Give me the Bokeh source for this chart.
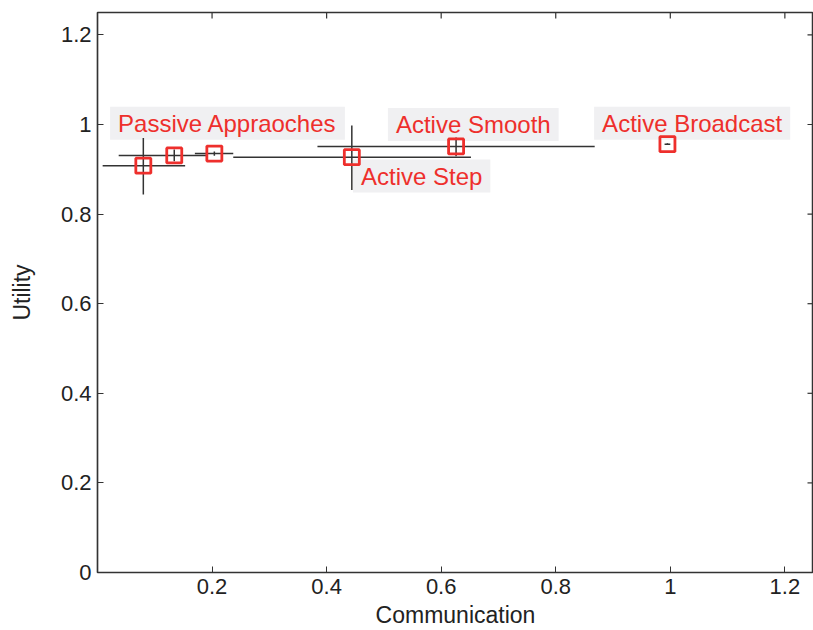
import math
from bokeh.plotting import figure
from bokeh.models import Range1d, Label, FixedTicker
from bokeh.embed import file_html
from bokeh.resources import INLINE

# data
names = ["Passive 1", "Passive 2", "Passive 3", "Active Step", "Active Smooth", "Active Broadcast"]
comm = [0.080, 0.134, 0.204, 0.444, 0.626, 0.995]
util = [0.908, 0.931, 0.935, 0.927, 0.951, 0.956]
comm_lo = [0.009, 0.037, 0.170, 0.237, 0.384, 0.990]
comm_hi = [0.153, 0.190, 0.237, 0.652, 0.868, 1.000]
util_lo = [0.844, 0.918, 0.930, 0.854, 0.929, 0.954]
util_hi = [0.970, 0.944, 0.940, 0.998, 0.971, 0.958]

label_texts = ["Passive Appraoches", "Active Smooth", "Active Step", "Active Broadcast"]
label_x = [0.022, 0.507, 0.446, 0.867]
label_y = [1.003, 1.000, 0.885, 1.003]

x_ticks = [0.2, 0.4, 0.6, 0.8, 1.0, 1.2]
y_ticks = [0, 0.2, 0.4, 0.6, 0.8, 1.0, 1.2]
x_max = 1.25
y_max = 1.25

RED = "#ee2f2c"
DARK = "#333333"
FONT = "Liberation Sans"

p = figure(width=813, height=630, output_backend="svg", toolbar_location=None,
           x_range=Range1d(0, x_max), y_range=Range1d(0, y_max),
           min_border_left=97, min_border_right=0, min_border_top=12, min_border_bottom=52)
p.grid.visible = False
p.background_fill_color = "white"
p.border_fill_color = "white"
p.outline_line_color = DARK
p.outline_line_width = 1.5

for ax in (p.xaxis[0], p.yaxis[0]):
    ax.major_tick_in = 6
    ax.major_tick_out = 0
    ax.minor_tick_in = 0
    ax.minor_tick_out = 0
    ax.axis_line_color = DARK
    ax.axis_line_width = 1.2
    ax.major_tick_line_color = DARK
    ax.major_label_text_font = FONT
    ax.major_label_text_font_size = "22px"
    ax.major_label_text_color = "#222222"
    ax.axis_label_text_font = FONT
    ax.axis_label_text_font_size = "23px"
    ax.axis_label_text_font_style = "normal"
    ax.axis_label_text_color = "#222222"

p.xaxis.ticker = FixedTicker(ticks=x_ticks)
p.yaxis.ticker = FixedTicker(ticks=y_ticks)
p.xaxis.axis_label = "Communication"
p.yaxis.axis_label = "Utility"
p.xaxis.major_label_standoff = 6
p.xaxis.axis_label_standoff = 5
p.yaxis.major_label_standoff = 6
p.yaxis.axis_label_standoff = 23
p.yaxis.major_label_orientation = "horizontal"

# mirrored inward ticks on top and right edges (half of each dash is clipped by the frame)
p.scatter(x=x_ticks, y=[y_max] * len(x_ticks), marker="dash", angle=math.pi / 2,
          size=12, line_color=DARK, line_width=1.2)
p.scatter(x=[x_max] * len(y_ticks), y=y_ticks, marker="dash",
          size=12, line_color=DARK, line_width=1.2)

# text labels (drawn beneath the marks)
for t, lx, ly in zip(label_texts, label_x, label_y):
    p.add_layout(Label(x=lx, y=ly, text=t, text_align="left", text_baseline="middle",
                       text_font=FONT, text_font_size="24px", text_color=RED,
                       background_fill_color="#f0f0f2", padding=dict(x=8, y=3),
                       level="underlay"))

# error bars
p.segment(x0=comm_lo, y0=util, x1=comm_hi, y1=util, line_color=DARK, line_width=1.5)
p.segment(x0=comm, y0=util_lo, x1=comm, y1=util_hi, line_color=DARK, line_width=1.5)

# markers
p.scatter(x=comm, y=util, marker="square", size=15, fill_color=None,
          line_color=RED, line_width=2.8)

open("out.html", "w").write(file_html(p, INLINE))
